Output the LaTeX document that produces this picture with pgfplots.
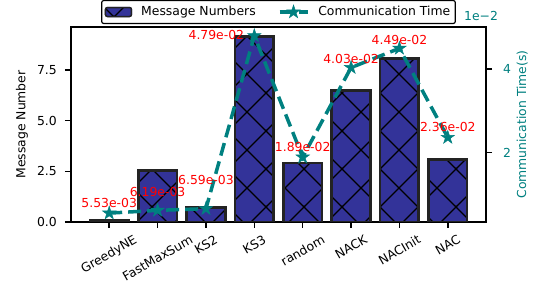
\documentclass[border=0pt]{standalone}
\usepackage{pgfplots}
\pgfplotsset{compat=1.18}
\usepackage{graphicx}
\usepackage{fontspec}
\setmainfont{DejaVu Sans}
\usetikzlibrary{patterns}
\definecolor{barblue}{RGB}{51,51,153}
\definecolor{baredge}{RGB}{35,35,35}
\definecolor{tealc}{RGB}{0,128,128}

\pgfdeclarepatterninherentlycolored{bigxc}{\pgfqpoint{-1pt}{-1pt}}{\pgfqpoint{39pt}{39pt}}{\pgfqpoint{38pt}{38pt}}{%
  \pgfsetlinewidth{1.1pt}%
  \pgfsetstrokecolor{black}%
  \pgfpathmoveto{\pgfqpoint{-1pt}{-1pt}}\pgfpathlineto{\pgfqpoint{39pt}{39pt}}%
  \pgfpathmoveto{\pgfqpoint{-1pt}{39pt}}\pgfpathlineto{\pgfqpoint{39pt}{-1pt}}%
  \pgfusepath{stroke}}

\pgfdeclareplotmark{fstar}{%
  \pgfpathmoveto{\pgfpointpolar{90}{\pgfplotmarksize}}%
  \pgfpathlineto{\pgfpointpolar{126}{0.382\pgfplotmarksize}}%
  \pgfpathlineto{\pgfpointpolar{162}{\pgfplotmarksize}}%
  \pgfpathlineto{\pgfpointpolar{198}{0.382\pgfplotmarksize}}%
  \pgfpathlineto{\pgfpointpolar{234}{\pgfplotmarksize}}%
  \pgfpathlineto{\pgfpointpolar{270}{0.382\pgfplotmarksize}}%
  \pgfpathlineto{\pgfpointpolar{306}{\pgfplotmarksize}}%
  \pgfpathlineto{\pgfpointpolar{342}{0.382\pgfplotmarksize}}%
  \pgfpathlineto{\pgfpointpolar{18}{\pgfplotmarksize}}%
  \pgfpathlineto{\pgfpointpolar{54}{0.382\pgfplotmarksize}}%
  \pgfpathclose
  \pgfusepathqfillstroke}

\pgfplotstableread{
x  msgs  time
0  100   0.00553
1  2550  0.00619
2  720   0.00659
3  9150  0.0479
4  2900  0.0189
5  6490  0.0403
6  8070  0.0449
7  3090  0.0236
}\datatable

\tikzset{
  linestyle/.style={color=tealc, line width=3.5pt, dash pattern=on 13pt off 6pt,
    mark=fstar, mark size=7pt, mark options={solid, line width=0.5pt, fill=tealc}},
}
\pgfplotsset{
  barlegend/.style={legend image code/.code={%
    \fill[barblue] (0pt,-4.5pt) rectangle (26pt,4.5pt);
    \draw[pattern=bigxc, draw=baredge, line width=1.5pt] (0pt,-4.5pt) rectangle (26pt,4.5pt);}},
  linelegend/.style={legend image code/.code={\draw[##1, mark repeat=2, mark phase=2] plot coordinates {(0pt,0pt) (14pt,0pt) (28pt,0pt)};}},
}

\begin{document}
\begin{tikzpicture}[font=\fontsize{12.4}{14.9}\selectfont]
\begin{axis}[
  scale only axis, width=415pt, height=195pt,
  xmin=-0.79, xmax=7.79, ymin=0, ymax=9608,
  scaled ticks=false,
  xtick={0,1,2,3,4,5,6,7},
  xticklabels={\rotatebox{30}{GreedyNE},\rotatebox{30}{FastMaxSum},\rotatebox{30}{KS2},\rotatebox{30}{KS3},\rotatebox{30}{random},\rotatebox{30}{NACK},\rotatebox{30}{NACInit},\rotatebox{30}{NAC}},
  xticklabel style={anchor=north, inner sep=0pt, yshift=-6pt},
  ytick={0,2500,5000,7500}, yticklabels={0.0,2.5,5.0,7.5},
  yticklabel style={inner sep=0pt, xshift=-8pt},
  xtick pos=left, ytick pos=left,
  tick align=outside, major tick length=6pt,
  every tick/.style={black, line width=1.5pt},
  axis line style={line width=1.6pt},
  ylabel={Message Number},
  every axis y label/.style={at={(axis description cs:-0.118,0.5)}, rotate=90, anchor=center},
  ybar, bar width=0.8,
]
\addplot[fill=barblue, draw=none, bar shift=0pt] table[x=x, y=msgs] {\datatable};
\addplot[pattern=bigxc, draw=baredge, line width=2.6pt, bar shift=0pt] table[x=x, y=msgs] {\datatable};
\coordinate (O) at (rel axis cs:0,0);
\node[anchor=base west, inner sep=0pt] at (rel axis cs:0,1) [yshift=6.5pt, xshift=1pt] {1e3};
\end{axis}
\begin{axis}[
  scale only axis, width=415pt, height=195pt,
  xmin=-0.79, xmax=7.79, ymin=0.00341, ymax=0.0500,
  scaled ticks=false,
  hide x axis, axis y line*=right,
  ytick={0.02,0.04}, yticklabels={2,4},
  yticklabel style={inner sep=0pt, xshift=11pt, text=tealc},
  tick align=outside, major tick length=6pt,
  every tick/.style={black, line width=1.5pt},
  axis line style={line width=1.6pt},
  ylabel={Communication Time(s)},
  every axis y label/.style={at={(axis description cs:1.087,0.5)}, rotate=90, anchor=center, text=tealc},
  clip=false,
  legend columns=2,
  legend style={at={(0.5,1.015)}, anchor=south, draw=black, line width=1.2pt, rounded corners=2pt,
    inner xsep=3pt, inner ysep=3pt,
    /tikz/every odd column/.append style={column sep=7pt},
    /tikz/every even column/.append style={column sep=20pt},
    nodes={inner xsep=2pt, inner ysep=3pt}},
]
\addlegendimage{barlegend}
\addlegendentry{Message Numbers}
\addplot[linestyle, linelegend] table[x=x, y=time] {\datatable};
\addlegendentry{Communication Time}
\node[anchor=base west, inner sep=0pt, text=tealc] at (rel axis cs:1,1) [yshift=6.5pt, xshift=-22pt] {1e\textminus2};
\begin{scope}[every node/.style={text=red, inner sep=0pt}]
\node[anchor=center, yshift=10pt] at (axis cs:0,0.00553) {5.53e-03};
\node[anchor=center, yshift=18pt] at (axis cs:1,0.00619) {6.19e-03};
\node[anchor=center, yshift=29pt] at (axis cs:2,0.00659) {6.59e-03};
\node[anchor=east, xshift=-10pt, yshift=1pt] at (axis cs:3,0.0479) {4.79e-02};
\node[anchor=center, yshift=10.5pt] at (axis cs:4,0.0189) {1.89e-02};
\node[anchor=center, yshift=9pt] at (axis cs:5,0.0403) {4.03e-02};
\node[anchor=center, yshift=8.6pt] at (axis cs:6,0.0449) {4.49e-02};
\node[anchor=center, yshift=10.4pt] at (axis cs:7,0.0236) {2.36e-02};
\end{scope}
\end{axis}
\pgfresetboundingbox
\path ([shift={(-71pt,-61pt)}]O) rectangle ++(536pt,283pt);
\end{tikzpicture}
\end{document}
